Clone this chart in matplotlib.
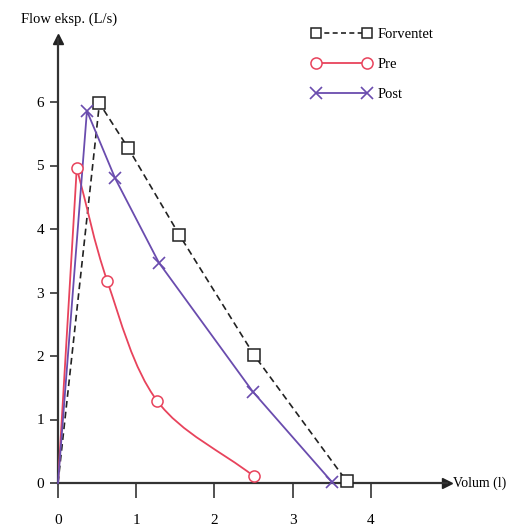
import matplotlib.pyplot as plt
from matplotlib.path import Path
from matplotlib.patches import PathPatch
import numpy as np

plt.rcParams['font.family'] = ['Liberation Serif', 'DejaVu Serif']

# data
forv_x = [0, 0.53, 0.90, 1.55, 2.51, 3.69]
forv_y = [0, 5.98, 5.27, 3.91, 2.01, 0.03]

pre_x = [0, 0.24, 0.63, 1.27, 2.50]
pre_y = [0, 4.96, 3.18, 1.29, 0.11]

post_x = [0, 0.37, 0.73, 1.29, 2.49, 3.50]
post_y = [0, 5.86, 4.80, 3.47, 1.44, 0.02]

xticks = [0, 1, 2, 3, 4]
yticks = [0, 1, 2, 3, 4, 5, 6]

black = '#222222'
red = '#e8435c'
purple = '#6a4cae'

W, H = 507, 527
fig = plt.figure(figsize=(W / 100, H / 100), dpi=100)
# x: 0 at px 58, 78.2 px per unit ; y: 0 at px 483, 63.5 px per unit
x0, xs = 58, 78.2
y0, ys = 483, 63.5
xmax, ymax = 4.97, 7.0
ax = fig.add_axes([x0 / W, (H - y0) / H, xmax * xs / W, ymax * ys / H])
ax.set_xlim(0, xmax)
ax.set_ylim(0, ymax)

for s in ['top', 'right']:
    ax.spines[s].set_visible(False)
for s in ['left', 'bottom']:
    ax.spines[s].set_linewidth(1.6)
    ax.spines[s].set_color('#333333')

# arrow heads
ax.plot(1, 0, '>', color='#222222', ms=7, transform=ax.transAxes, clip_on=False)
ax.plot(0, 1, '^', color='#222222', ms=7, transform=ax.transAxes, clip_on=False)

ax.set_xticks(xticks)
ax.set_yticks(yticks)
ax.tick_params(axis='x', length=11, width=1.2, pad=11, labelsize=11, color='#333333')
ax.tick_params(axis='y', length=6, width=1.2, pad=4, labelsize=11, color='#333333')

ax.text(-0.47, 7.3, 'Flow eksp. (L/s)', fontsize=10.5, ha='left', va='center')
ax.text(5.05, 0, 'Volum (l)', fontsize=10, ha='left', va='center', clip_on=False)

# Forventet
ax.plot(forv_x, forv_y, color=black, lw=1.2, ls=(0, (4, 2.5)), clip_on=False, zorder=3)
ax.plot(forv_x[1:], forv_y[1:], ls='none', marker='s', ms=8, mfc='white', mec=black,
        mew=1.1, clip_on=False, zorder=4)

# Pre: straight to the peak, smooth through the rest
px = np.array(pre_x) * xs
py = np.array(pre_y) * ys
verts = [(pre_x[0], pre_y[0]), (pre_x[1], pre_y[1])]
codes = [Path.MOVETO, Path.LINETO]
for i in range(1, len(pre_x) - 1):
    a = max(i - 1, 1)
    b = min(i + 2, len(pre_x) - 1)
    t1 = ((px[i + 1] - px[a]) / 2, (py[i + 1] - py[a]) / 2) if i > 1 else (px[i + 1] - px[i], py[i + 1] - py[i])
    t2 = ((px[b] - px[i]) / 2, (py[b] - py[i]) / 2) if i + 1 < len(pre_x) - 1 else (px[i + 1] - px[i], py[i + 1] - py[i])
    c1 = ((px[i] + t1[0] / 3) / xs, (py[i] + t1[1] / 3) / ys)
    c2 = ((px[i + 1] - t2[0] / 3) / xs, (py[i + 1] - t2[1] / 3) / ys)
    verts += [c1, c2, (pre_x[i + 1], pre_y[i + 1])]
    codes += [Path.CURVE4] * 3
ax.add_patch(PathPatch(Path(verts, codes), fc='none', ec=red, lw=1.3, zorder=3))
ax.plot(pre_x[1:], pre_y[1:], ls='none', marker='o', ms=8, mfc='white', mec=red,
        mew=1.1, clip_on=False, zorder=4)

# Post
ax.plot(post_x, post_y, color=purple, lw=1.3, clip_on=False, zorder=3)
ax.plot(post_x[1:], post_y[1:], ls='none', marker='x', ms=8, mec=purple,
        mew=1.2, clip_on=False, zorder=4)

# legend
h1, = ax.plot([], [], color=black, lw=1.2, ls=(0, (3, 2)), marker='s', ms=7,
              mfc='white', mec=black, mew=1.1)
h2, = ax.plot([], [], color=red, lw=1.3, marker='o', ms=8, mfc='white', mec=red, mew=1.1)
h3, = ax.plot([], [], color=purple, lw=1.3, marker='x', ms=8, mec=purple, mew=1.2)
fig.legend([h1, h2, h3], ['Forventet', 'Pre', 'Post'], loc='upper left',
           bbox_to_anchor=(312 / W, 1 - 28 / H), frameon=False, fontsize=10.5,
           numpoints=2, handlelength=4.1, handletextpad=0.4, labelspacing=1.15,
           borderpad=0, borderaxespad=0)

fig.savefig('out.png', dpi=100)
